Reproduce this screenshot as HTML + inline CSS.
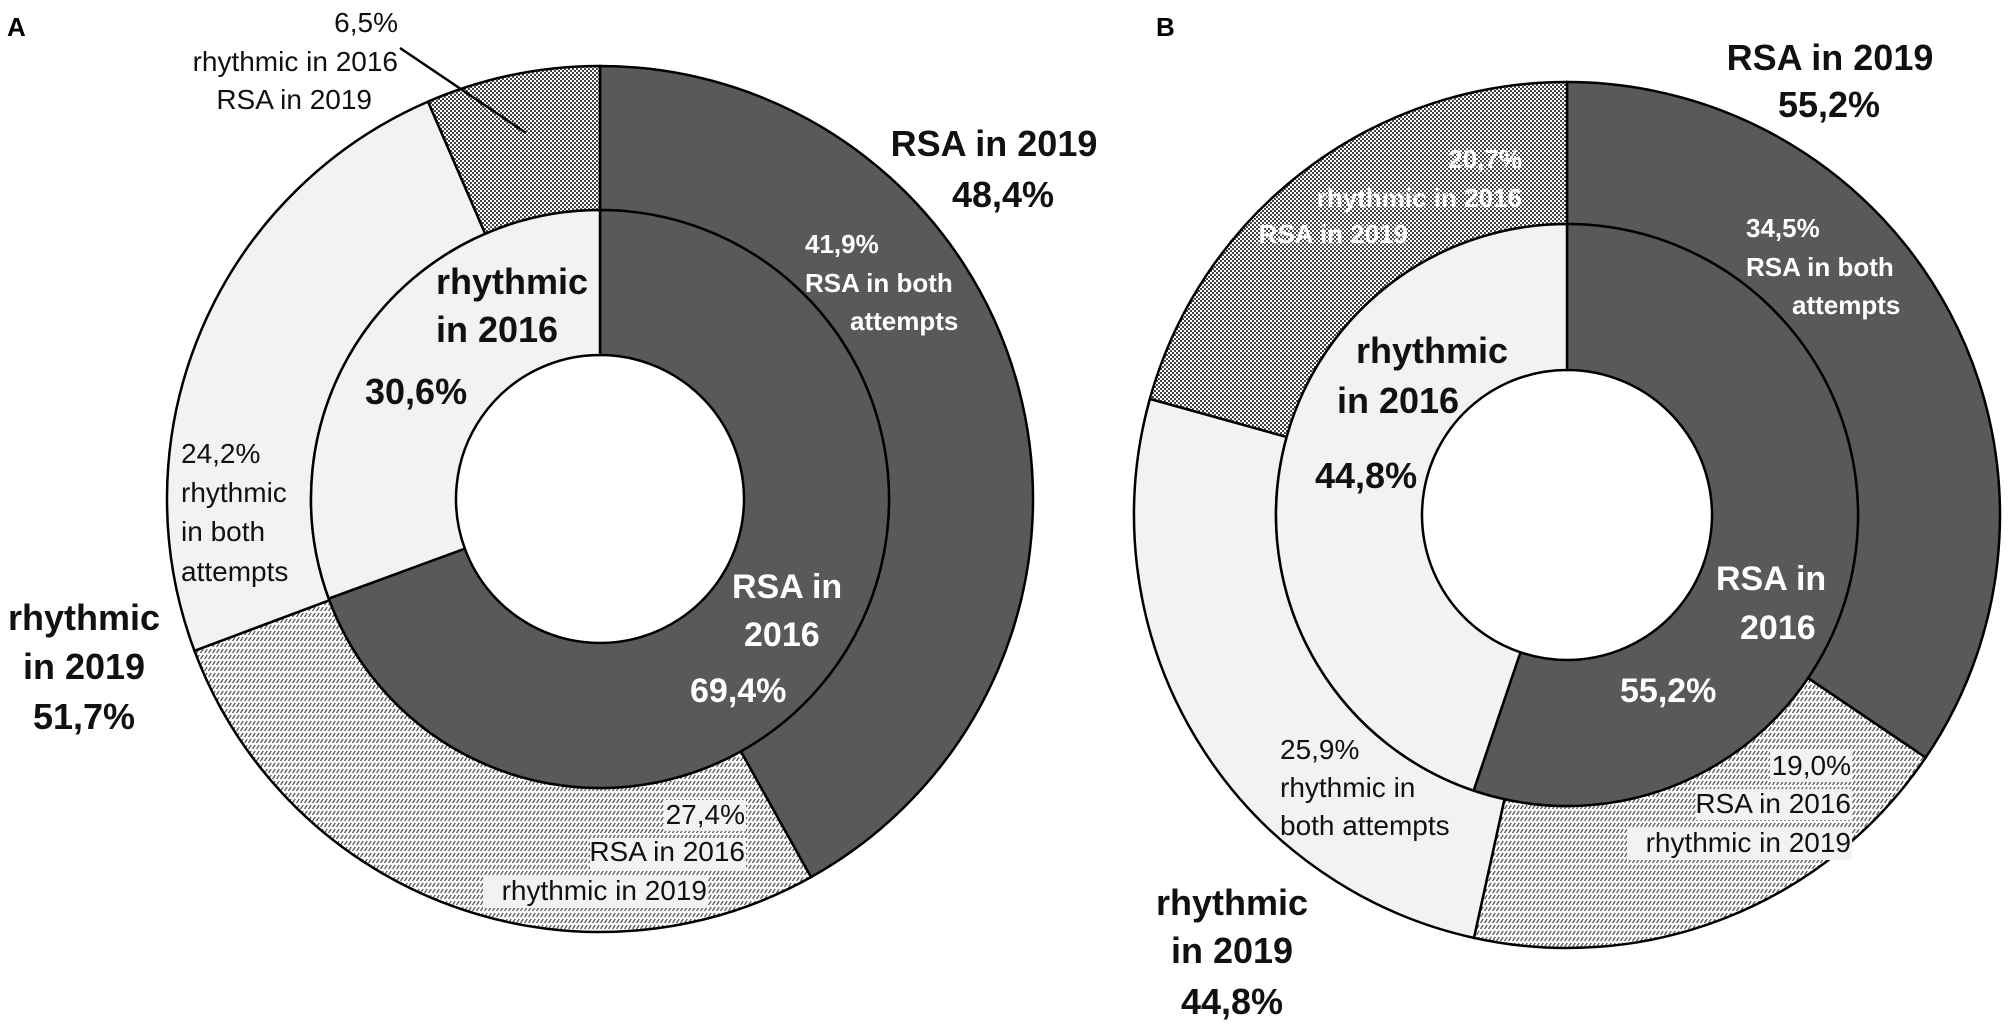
<!DOCTYPE html>
<html><head><meta charset="utf-8">
<style>
html,body{margin:0;padding:0;background:#fff;}
svg{display:block;}
text{font-family:"Liberation Sans",Arial,sans-serif;}
.r{font-size:28px;fill:#111;}
.b{font-size:36px;font-weight:bold;fill:#111;}
.w{font-size:26px;font-weight:bold;fill:#fff;}
.wb{font-size:34px;font-weight:bold;fill:#fff;}
</style></head>
<body>
<svg id="chart" width="2008" height="1025" viewBox="0 0 2008 1025" xmlns="http://www.w3.org/2000/svg">
<defs>
<pattern id="dots" width="4" height="4" patternUnits="userSpaceOnUse">
<rect width="4" height="4" fill="#ffffff"/>
<rect width="2" height="2" fill="#444"/>
<rect x="2" y="2" width="2" height="2" fill="#444"/>
</pattern>
<pattern id="hatch" width="4" height="6" patternUnits="userSpaceOnUse">
<rect width="4" height="6" fill="#ffffff"/>
<line x1="0.5" y1="5" x2="3.2" y2="1" stroke="#555" stroke-width="1.3"/>
</pattern>
</defs>
<g id="marks"></g>
<g fill="#f2f2f2">
<rect x="664" y="800" width="82" height="31"/>
<rect x="590" y="838" width="156" height="31"/>
<rect x="483" y="876" width="225" height="32"/>
<rect x="1770" y="751" width="82" height="31"/>
<rect x="1696" y="789" width="156" height="31"/>
<rect x="1627" y="828" width="225" height="32"/>
</g>
<g id="labels">
<text x="7" y="36" style="font-size:26px;font-weight:bold">A</text>
<text x="1156" y="36" style="font-size:26px;font-weight:bold">B</text>

<g class="r" text-anchor="end">
<text x="398" y="32">6,5%</text><text x="398" y="71">rhythmic in 2016</text><text x="372" y="109">RSA in 2019</text></g>
<line x1="400" y1="48" x2="526" y2="133" stroke="#000" stroke-width="2.5"/>
<g class="b" text-anchor="middle">
<text x="994" y="156">RSA in 2019</text><text x="1003" y="207">48,4%</text></g>
<g class="w">
<text x="805" y="253">41,9%</text><text x="805" y="292">RSA in both</text><text x="850" y="330">attempts</text></g>
<g class="b">
<text x="436" y="294">rhythmic</text><text x="436" y="342">in 2016</text><text x="365" y="404">30,6%</text></g>
<g class="r">
<text x="181" y="463">24,2%</text><text x="181" y="502">rhythmic</text><text x="181" y="541">in both</text><text x="181" y="581">attempts</text></g>
<g class="b" text-anchor="middle">
<text x="84" y="630">rhythmic</text><text x="84" y="679">in 2019</text><text x="84" y="729">51,7%</text></g>
<g class="wb">
<text x="732" y="598">RSA in</text><text x="744" y="646">2016</text><text x="690" y="702">69,4%</text></g>
<g class="r">
<text x="745" y="824" text-anchor="end">27,4%</text><text x="745" y="861" text-anchor="end">RSA in 2016</text><text x="707" y="900" text-anchor="end">rhythmic in 2019</text></g>

<g class="b" text-anchor="middle">
<text x="1830" y="70">RSA in 2019</text><text x="1829" y="117">55,2%</text></g>
<g class="w" text-anchor="end">
<text x="1522" y="168">20,7%</text><text x="1522" y="207">rhythmic in 2016</text><text x="1408" y="243">RSA in 2019</text></g>
<g class="w">
<text x="1746" y="237">34,5%</text><text x="1746" y="276">RSA in both</text><text x="1792" y="314">attempts</text></g>
<g class="b">
<text x="1356" y="363">rhythmic</text><text x="1337" y="413">in 2016</text><text x="1315" y="488">44,8%</text></g>
<g class="wb">
<text x="1716" y="590">RSA in</text><text x="1740" y="639">2016</text><text x="1620" y="702">55,2%</text></g>
<g class="r">
<text x="1280" y="759">25,9%</text><text x="1280" y="797">rhythmic in</text><text x="1280" y="835">both attempts</text></g>
<g class="r" text-anchor="end">
<text x="1851" y="775">19,0%</text><text x="1851" y="813">RSA in 2016</text><text x="1851" y="852">rhythmic in 2019</text></g>
<g class="b" text-anchor="middle">
<text x="1232" y="915">rhythmic</text><text x="1232" y="963">in 2019</text><text x="1232" y="1014">44,8%</text></g>
</g>
</svg>
<script>
// Panel A data (percent)
const aInnerCategories = ["RSA in 2016", "rhythmic in 2016"];
const aInnerValues = [69.4, 30.6];
const aOuterCategories = ["RSA in both", "RSA 2016 rhythmic 2019", "rhythmic in both", "rhythmic 2016 RSA 2019"];
const aOuterValues = [41.9, 27.4, 24.2, 6.5];
// Panel B data (percent)
const bInnerCategories = ["RSA in 2016", "rhythmic in 2016"];
const bInnerValues = [55.2, 44.8];
const bOuterCategories = ["RSA in both", "RSA 2016 rhythmic 2019", "rhythmic in both", "rhythmic 2016 RSA 2019"];
const bOuterValues = [34.5, 19.0, 25.9, 20.7];

const innerFills = ["#595959", "#f2f2f2"];
const outerFills = ["#595959", "url(#hatch)", "#f2f2f2", "url(#dots)"];
const g = document.getElementById('marks');
const NS = 'http://www.w3.org/2000/svg';

function pt(cx, cy, r, a) { return [cx + r * Math.sin(a), cy - r * Math.cos(a)]; }
function arcPath(cx, cy, r0, r1, a0, a1) {
  const large = (a1 - a0) > Math.PI ? 1 : 0;
  const p1 = pt(cx, cy, r1, a0), p2 = pt(cx, cy, r1, a1), p3 = pt(cx, cy, r0, a1), p4 = pt(cx, cy, r0, a0);
  return `M${p1[0]},${p1[1]} A${r1},${r1} 0 ${large} 1 ${p2[0]},${p2[1]} L${p3[0]},${p3[1]} A${r0},${r0} 0 ${large} 0 ${p4[0]},${p4[1]} Z`;
}
function ring(panel, ringName, cats, vals, fills, cx, cy, r0, r1) {
  const total = vals.reduce((s, v) => s + v, 0);
  let acc = 0;
  vals.forEach((v, i) => {
    const a0 = acc / total * 2 * Math.PI;
    acc += v;
    const a1 = acc / total * 2 * Math.PI;
    const p = document.createElementNS(NS, 'path');
    p.setAttribute('d', arcPath(cx, cy, r0, r1, a0, a1));
    p.setAttribute('fill', fills[i]);
    p.setAttribute('stroke', '#000');
    p.setAttribute('stroke-width', '2.5');
    
    
    g.appendChild(p);
  });
}
ring('a', 'outer', aOuterCategories, aOuterValues, outerFills, 600, 499, 289, 433);
ring('a', 'inner', aInnerCategories, aInnerValues, innerFills, 600, 499, 144, 289);
ring('b', 'outer', bOuterCategories, bOuterValues, outerFills, 1567, 515, 291, 433);
ring('b', 'inner', bInnerCategories, bInnerValues, innerFills, 1567, 515, 145, 291);
</script>
</body></html>
